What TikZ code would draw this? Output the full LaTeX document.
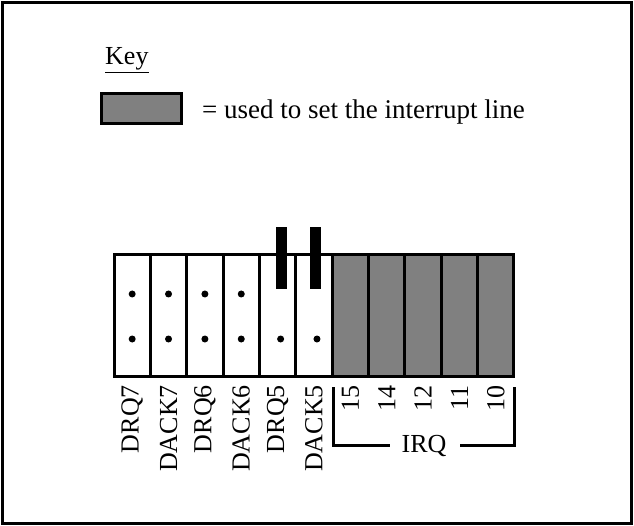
\documentclass[tikz,border=0pt]{standalone}
\usepackage{fontspec}
\setmainfont{Liberation Serif}
\usetikzlibrary{calc}
\definecolor{keygray}{HTML}{808080}
\begin{document}
\begin{tikzpicture}[x=1pt,y=-1pt,
  frame/.style={line width=3.5pt},
  col/.style={draw,line width=3pt,minimum width=36.36pt,minimum height=121pt,inner sep=0pt,outer sep=0pt},
  wcol/.style={col,fill=white},
  gcol/.style={col,fill=keygray},
  jumper/.style={fill=black,draw=none,minimum width=11pt,minimum height=62pt,inner sep=0pt},
  pin/.style={circle,fill=black,minimum size=7pt,inner sep=0pt},
  lab/.style={font=\fontsize{26}{30}\selectfont,rotate=90,anchor=east,inner sep=0pt},
  txt/.style={font=\fontsize{26}{30}\selectfont,inner sep=0pt},
  brk/.style={line width=3pt}]
\useasboundingbox (0,0) rectangle (634,526);
\draw[frame] (2.5,2.5) rectangle (631.5,523.5);
% key
\node[txt,anchor=base west] (key) at (105,65) {\underline{Key}};
\node[draw,line width=3pt,fill=keygray,minimum width=80pt,minimum height=30pt,inner sep=0pt] (kbox) at (141,108.5) {};
\node[txt,font=\fontsize{27}{31}\selectfont,anchor=base west] (ktext) at (202,119) {= used to set the interrupt line};
% columns
\foreach \i/\s in {1/wcol,2/wcol,3/wcol,4/wcol,5/wcol,6/wcol,7/gcol,8/gcol,9/gcol,10/gcol,11/gcol}{
  \node[\s] (c\i) at ({114+(\i-0.5)*36.36},315.5) {};
}
% dots
\foreach \i in {1,2,3,4}{
  \node[pin] (u\i) at ($(c\i)+(0,-21.5)$) {};
  \node[pin] (d\i) at ($(c\i)+(0,23.5)$) {};
}
\foreach \i in {5,6}{
  \node[pin] (d\i) at ($(c\i)+(3,23.5)$) {};
}
% jumpers
\node[jumper] (j1) at (281.5,258) {};
\node[jumper] (j2) at (315.5,258) {};
% labels
\foreach \i/\t in {1/DRQ7,2/DACK7,3/DRQ6,4/DACK6,5/DRQ5,6/DACK5,7/15,8/14,9/12,10/11,11/10}{
  \node[lab] (l\i) at ($(c\i.south)+(0,9)$) {\t};
}
% IRQ bracket
\node[txt,anchor=base] (irq) at (424,452) {IRQ};
\coordinate (bl) at (333,387);
\coordinate (br) at (514,387);
\coordinate (bla) at (333,445);
\coordinate (bra) at (514,445);
\draw[brk] (bl) -- (bla) -- ($(irq.west |- bla)+(-11,0)$);
\draw[brk] (br) -- (bra) -- ($(irq.east |- bra)+(13,0)$);
\end{tikzpicture}
\end{document}
